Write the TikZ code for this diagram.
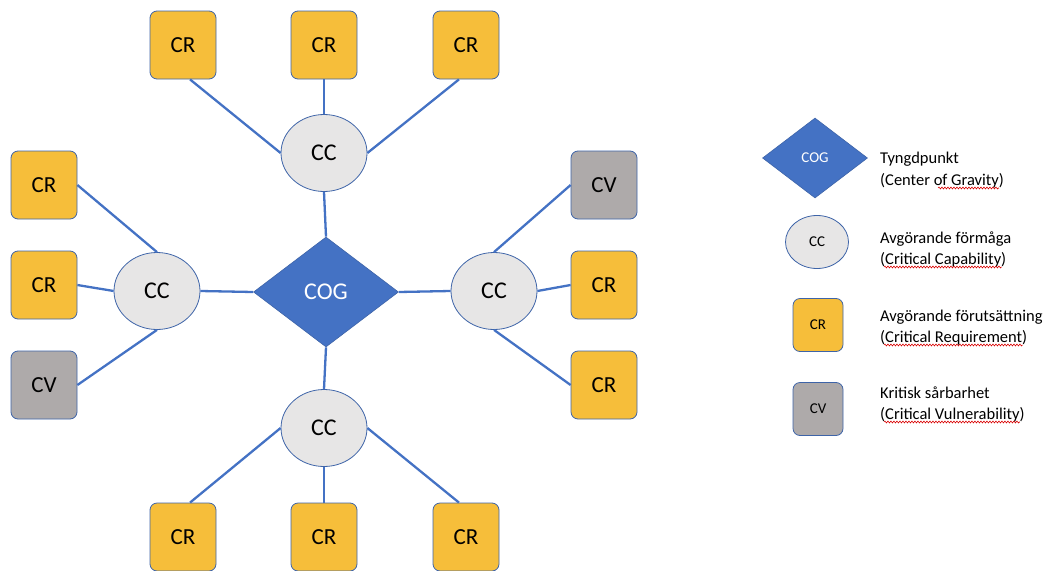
\documentclass[tikz,border=0pt]{standalone}
\usepackage{fontspec}
\setmainfont{Carlito}
\usepackage{xcolor}
\usetikzlibrary{shapes,positioning,calc,decorations.pathmorphing}

\definecolor{cogblue}{HTML}{4472C4}
\definecolor{rimblue}{HTML}{3E64A8}
\definecolor{ccfill}{HTML}{E7E6E6}
\definecolor{crfill}{HTML}{F6BE3A}
\definecolor{cvfill}{HTML}{AEAAAA}

\begin{document}
\begin{tikzpicture}[x=1pt, y=-1pt]
  \tikzstyle{cogbox}=[diamond, fill=cogblue, draw=rimblue, line width=0.6pt, text=white, inner sep=0pt, minimum width=145pt, minimum height=110pt, font=\fontsize{24}{28}\selectfont]
  \tikzstyle{ccnode}=[ellipse, fill=ccfill, draw=rimblue, line width=0.8pt, inner sep=0pt, minimum width=86pt, minimum height=77pt, font=\fontsize{24}{28}\selectfont]
  \tikzstyle{crbox}=[rectangle, rounded corners=7pt, fill=crfill, draw=rimblue, line width=0.8pt, inner sep=0pt, minimum width=66pt, minimum height=68pt, font=\fontsize{23}{27}\selectfont]
  \tikzstyle{cvbox}=[crbox, fill=cvfill]
  \tikzstyle{link}=[-, line width=2.3pt, cogblue]
  \tikzstyle{legtext}=[anchor=base west, inner sep=0pt, font=\fontsize{16.5}{19}\selectfont]
  \tikzstyle{spell}=[red!85!black, line width=0.6pt, decorate, decoration={snake, amplitude=0.9pt, segment length=3pt}]

  \useasboundingbox (0,0) rectangle (1046,570);

  % Tyngdpunkt i mitten
  \node[cogbox] (cog) at (326,292) {COG};

  % Avgörande förmågor
  \node[ccnode] (cct) at (324,153) {CC};
  \node[ccnode] (ccl) at (157,291) {CC};
  \node[ccnode] (ccr) at (494,291) {CC};
  \node[ccnode] (ccb) at (324,428) {CC};

  % Förutsättningar och sårbarheter
  \node[crbox] (crt1) at (183,45) {CR};
  \node[crbox] (crt2) at (324,45) {CR};
  \node[crbox] (crt3) at (466,45) {CR};
  \node[crbox] (crl1) at (44,185) {CR};
  \node[crbox] (crl2) at (44,285) {CR};
  \node[cvbox] (cvl)  at (44,385) {CV};
  \node[cvbox] (cvr)  at (604,185) {CV};
  \node[crbox] (crr1) at (604,285) {CR};
  \node[crbox] (crr2) at (604,385) {CR};
  \node[crbox] (crb1) at (183,537) {CR};
  \node[crbox] (crb2) at (324,537) {CR};
  \node[crbox] (crb3) at (466,537) {CR};

  % Kopplingar
  \draw[link] (cog.north) -- (cct.south);
  \draw[link] (cog.west) -- (ccl.east);
  \draw[link] (cog.east) -- (ccr.west);
  \draw[link] (cog.south) -- (ccb.north);

  \draw[link] (cct.west) -- ([xshift=7pt]crt1.south);
  \draw[link] (cct.north) -- (crt2.south);
  \draw[link] (cct.east) -- ([xshift=-7pt]crt3.south);

  \draw[link] (ccl.north) -- (crl1.east);
  \draw[link] (ccl.west) -- (crl2.east);
  \draw[link] (ccl.south) -- (cvl.east);

  \draw[link] (ccr.north) -- (cvr.west);
  \draw[link] (ccr.east) -- (crr1.west);
  \draw[link] (ccr.south) -- (crr2.west);

  \draw[link] (ccb.west) -- ([xshift=7pt]crb1.north);
  \draw[link] (ccb.south) -- (crb2.north);
  \draw[link] (ccb.east) -- ([xshift=-7pt]crb3.north);

  % Teckenförklaring
  \node[cogbox, minimum width=105pt, minimum height=80pt, font=\fontsize{15}{18}\selectfont] (lcog) at (815,158) {COG};
  \node[ccnode, minimum width=63pt, minimum height=53pt, font=\fontsize{15}{18}\selectfont] (lcc) at (817,242) {CC};
  \node[crbox, minimum width=50pt, minimum height=53pt, font=\fontsize{15}{18}\selectfont] (lcr) at (818,325) {CR};
  \node[cvbox, minimum width=50pt, minimum height=53pt, font=\fontsize{15}{18}\selectfont] (lcv) at (818,409) {CV};

  \node[legtext] (t1a) at (880,163) {Tyngdpunkt};
  \node[legtext] (t1b) at (880,185) {(Center of Gravity)};
  \node[legtext] (t2a) at (880,243) {Avgörande förmåga};
  \node[legtext] (t2b) at (880,264) {(Critical Capability)};
  \node[legtext] (t3a) at (880,321) {Avgörande förutsättning};
  \node[legtext] (t3b) at (880,342) {(Critical Requirement)};
  \node[legtext] (t4a) at (880,398) {Kritisk sårbarhet};
  \node[legtext] (t4b) at (880,419) {(Critical Vulnerability)};

  % rättstavningsmarkering
  \draw[spell] ($(t1b.base west)+(58,3)$) -- ($(t1b.base east)+(-5,3)$);
  \draw[spell] ($(t2b.base west)+(4,3)$) -- ($(t2b.base east)+(-5,3)$);
  \draw[spell] ($(t3b.base west)+(4,3)$) -- ($(t3b.base east)+(-5,3)$);
  \draw[spell] ($(t4b.base west)+(4,3)$) -- ($(t4b.base east)+(-5,3)$);
\end{tikzpicture}
\end{document}
